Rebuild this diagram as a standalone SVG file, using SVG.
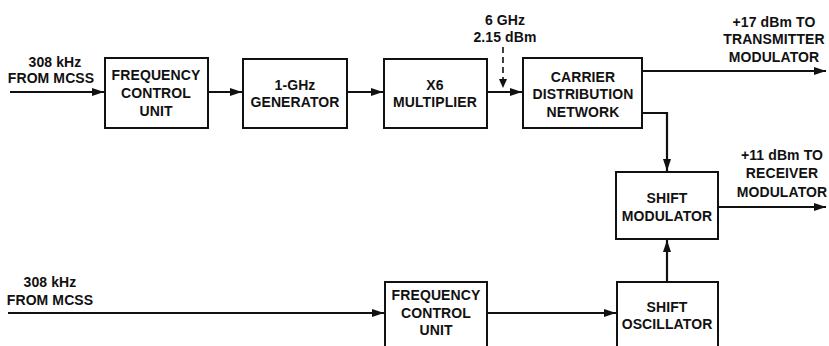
<svg xmlns="http://www.w3.org/2000/svg" width="829" height="346" viewBox="0 0 829 346">
<defs>
<style>
.box{fill:#fff;stroke:#111;stroke-width:2}
.ln{fill:none;stroke:#111;stroke-width:2.2}
.dash{fill:none;stroke:#111;stroke-width:1.6;stroke-dasharray:6 4}
text{font-family:"Liberation Sans",Arial,sans-serif;font-size:14px;font-weight:bold;fill:#111;text-anchor:middle;letter-spacing:0.1px}
</style>
<marker id="ah" viewBox="0 0 12 8" refX="12" refY="4" markerWidth="12" markerHeight="8" markerUnits="userSpaceOnUse" orient="auto">
<path d="M0,0 L12,4 L0,8 Z" fill="#111"/>
</marker>
</defs>
<rect width="829" height="346" fill="#fff"/>
<g id="connectors">
<path class="ln" d="M10,92 H104" marker-end="url(#ah)"/>
<path class="ln" d="M208,92 H242" marker-end="url(#ah)"/>
<path class="ln" d="M347,92 H383" marker-end="url(#ah)"/>
<path class="ln" d="M487,92 H522" marker-end="url(#ah)"/>
<path class="dash" d="M503,47 V80"/>
<path d="M499,79 L503,88 L507,79 Z" fill="#111"/>
<path class="ln" d="M642,71 H826" marker-end="url(#ah)"/>
<path class="ln" d="M642,113 H667 V171" marker-end="url(#ah)"/>
<path class="ln" d="M718,207 H826" marker-end="url(#ah)"/>
<path class="ln" d="M667,282 V240" marker-end="url(#ah)"/>
<path class="ln" d="M8,313 H384" marker-end="url(#ah)"/>
<path class="ln" d="M487,313 H616" marker-end="url(#ah)"/>
</g>
<g id="labels">
<text x="55" y="67">308 kHz</text>
<text x="51" y="83">FROM MCSS</text>
<text x="50" y="287">308 kHz</text>
<text x="50" y="305">FROM MCSS</text>
<text x="505" y="25">6 GHz</text>
<text x="505" y="42">2.15 dBm</text>
<text x="774" y="27">+17 dBm TO</text>
<text x="774" y="44">TRANSMITTER</text>
<text x="774" y="62">MODULATOR</text>
<text x="782" y="160">+11 dBm TO</text>
<text x="782" y="178">RECEIVER</text>
<text x="782" y="197">MODULATOR</text>
</g>
<g id="fcu1">
<rect class="box" x="105" y="58" width="103" height="70"/>
<text x="156" y="80">FREQUENCY</text>
<text x="156" y="98">CONTROL</text>
<text x="156" y="116">UNIT</text>
</g>
<g id="gen">
<rect class="box" x="243" y="59" width="104" height="69"/>
<text x="295" y="90">1-GHz</text>
<text x="295" y="107">GENERATOR</text>
</g>
<g id="mult">
<rect class="box" x="384" y="59" width="103" height="69"/>
<text x="435" y="90">X6</text>
<text x="435" y="107">MULTIPLIER</text>
</g>
<g id="carrier">
<rect class="box" x="523" y="58" width="119" height="70"/>
<text x="583" y="82">CARRIER</text>
<text x="583" y="99">DISTRIBUTION</text>
<text x="583" y="117">NETWORK</text>
</g>
<g id="shiftmod">
<rect class="box" x="616" y="172" width="102" height="67"/>
<text x="667" y="203">SHIFT</text>
<text x="667" y="221">MODULATOR</text>
</g>
<g id="fcu2">
<rect class="box" x="385" y="282" width="102" height="80"/>
<text x="436" y="300">FREQUENCY</text>
<text x="436" y="318">CONTROL</text>
<text x="436" y="335">UNIT</text>
</g>
<g id="shiftosc">
<rect class="box" x="617" y="282" width="101" height="80"/>
<text x="667" y="312">SHIFT</text>
<text x="667" y="329">OSCILLATOR</text>
</g>
</svg>
